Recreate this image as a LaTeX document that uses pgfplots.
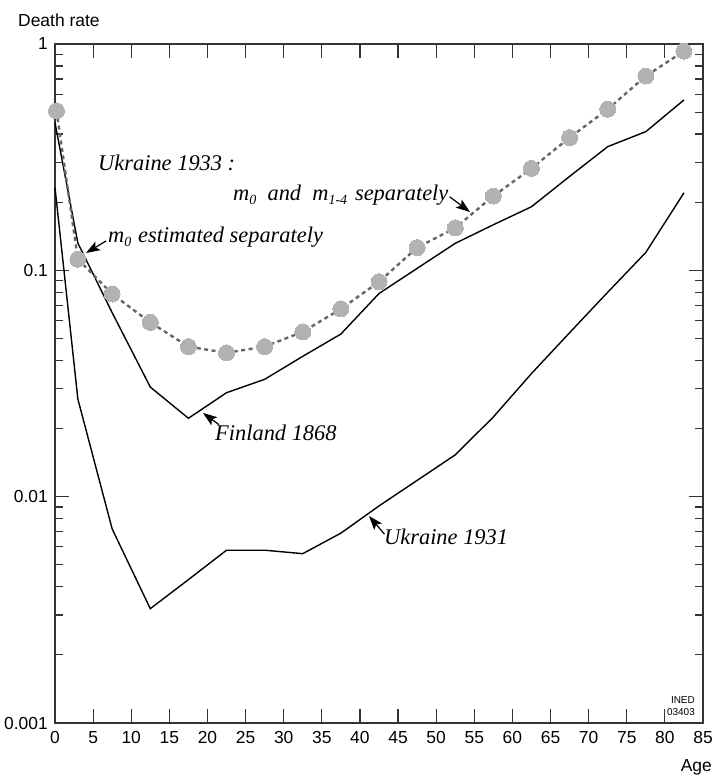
\documentclass[border=0pt]{standalone}
\usepackage{pgfplots}
\pgfplotsset{compat=1.18}
\usepackage{fontspec}
\setmainfont{Liberation Sans}
\newfontfamily\annotfont{Liberation Serif}
\usetikzlibrary{arrows.meta}
\newcommand{\annot}{\annotfont\itshape\fontsize{22.5}{24}\selectfont}
\newcommand{\sub}[1]{\raisebox{-0.45ex}{\fontsize{14}{14}\selectfont #1}}
\tikzset{annarrow/.style={line width=1.2bp, -{Stealth[length=14bp,width=10bp,inset=3bp]}}}

\begin{document}
\begin{tikzpicture}
\begin{axis}[
  name=ax,
  scale only axis,
  width=648bp, height=679bp,
  xmin=0, xmax=85,
  ymode=log, ymin=0.001, ymax=1,
  xtick={0,5,...,85},
  ytick={0.001,0.01,0.1,1},
  yticklabels={0.001,0.01,0.1,1},
  minor ytick={0.002,0.003,0.004,0.005,0.006,0.007,0.008,0.009,
               0.02,0.03,0.04,0.05,0.06,0.07,0.08,0.09,
               0.2,0.3,0.4,0.5,0.6,0.7,0.8,0.9},
  tick align=inside,
  xtick pos=both, ytick pos=both,
  xticklabel pos=left, yticklabel pos=left,
  major tick length=14bp,
  minor tick length=8bp,
  axis line style={line width=1.3bp, color=black!80},
  every tick/.style={line width=1.2bp, color=black!80},
  /pgf/number format/assume math mode=true,
  xticklabel style={font=\fontsize{17.5}{17.5}\selectfont, inner sep=0pt, yshift=-8bp},
  yticklabel style={font=\fontsize{17.5}{17.5}\selectfont, inner sep=0pt, xshift=-7bp},
  clip=false,
]
% Finland 1868
\addplot[black, line width=1.4bp] coordinates {
 (0,0.449) (3,0.132) (7.5,0.065) (12.5,0.0305) (17.5,0.0222) (22.5,0.0288)
 (27.5,0.033) (32.5,0.0417) (37.5,0.0523) (42.5,0.079) (47.5,0.102)
 (52.5,0.1316) (57.5,0.159) (62.5,0.191) (67.5,0.26) (72.5,0.352)
 (77.5,0.41) (82.5,0.566)};
% Ukraine 1931
\addplot[black, line width=1.4bp] coordinates {
 (0,0.232) (3,0.027) (7.5,0.0072) (12.5,0.0032) (17.5,0.0043) (22.5,0.0058)
 (27.5,0.0058) (32.5,0.0056) (37.5,0.0069) (42.5,0.0091) (47.5,0.0118)
 (52.5,0.0153) (57.5,0.0225) (62.5,0.035) (67.5,0.053) (72.5,0.08)
 (77.5,0.12) (82.5,0.22)};
% Ukraine 1933 dashed line
\addplot[color=black!60, line width=2.4bp, dash pattern=on 4bp off 3.5bp] coordinates {
 (0.2,0.507) (3,0.112) (7.5,0.0786) (12.5,0.0589) (17.5,0.046) (22.5,0.0432)
 (27.5,0.046) (32.5,0.0535) (37.5,0.0675) (42.5,0.089) (47.5,0.126)
 (52.5,0.154) (57.5,0.213) (62.5,0.282) (67.5,0.386) (72.5,0.515)
 (77.5,0.722) (82.5,0.93)};
% Ukraine 1933 dots
\addplot[only marks, color=black!30, mark=*, mark size=8bp, mark options={solid, fill=black!30, draw=black!30, line width=0pt}] coordinates {
 (0.2,0.507) (3,0.112) (7.5,0.0786) (12.5,0.0589) (17.5,0.046) (22.5,0.0432)
 (27.5,0.046) (32.5,0.0535) (37.5,0.0675) (42.5,0.089) (47.5,0.126)
 (52.5,0.154) (57.5,0.213) (62.5,0.282) (67.5,0.386) (72.5,0.515)
 (77.5,0.722) (82.5,0.93)};

% annotations
\node[anchor=west, inner sep=0pt] at (rel axis cs:0.0664,0.8247) {\annot Ukraine 1933 :};
\node[anchor=west, inner sep=0pt] at (rel axis cs:0.2747,0.7776) {\annot m\sub{0}\hspace{0.5em}and\hspace{0.5em}m\sub{1-4}\hspace{0.35em}separately};
\node[anchor=west, inner sep=0pt] at (rel axis cs:0.0818,0.7158) {\annot m\sub{0}\hspace{0.3em}estimated separately};
\node[anchor=west, inner sep=0pt] at (rel axis cs:0.2469,0.4271) {\annot Finland 1868};
\node[anchor=west, inner sep=0pt] at (rel axis cs:0.5077,0.2739) {\annot Ukraine 1931};

\draw[annarrow] (rel axis cs:0.0790,0.7100) -- (rel axis cs:0.0478,0.6922);
\draw[annarrow] (rel axis cs:0.6090,0.7750) -- (rel axis cs:0.6404,0.7526);
\draw[annarrow] (rel axis cs:0.2530,0.4395) -- (rel axis cs:0.2284,0.4566);
\draw[annarrow] (rel axis cs:0.5085,0.2780) -- (rel axis cs:0.4846,0.3049);

\node[anchor=east, inner sep=0pt, font=\fontsize{10}{10}\selectfont] at (rel axis cs:0.9877,0.0339) {INED};
\node[anchor=east, inner sep=0pt, font=\fontsize{10}{10}\selectfont] at (rel axis cs:0.9877,0.0162) {03403};
\end{axis}
\node[anchor=west, inner sep=0pt, font=\fontsize{17.5}{17.5}\selectfont] at ([xshift=-37bp,yshift=24bp]ax.north west) {Death rate};
\node[anchor=east, inner sep=0pt, font=\fontsize{17.5}{17.5}\selectfont] at ([xshift=9bp,yshift=-44bp]ax.south east) {Age};
\pgfresetboundingbox
\path[use as bounding box] ([xshift=-55bp,yshift=-53bp]ax.south west) rectangle ([xshift=10bp,yshift=44bp]ax.north east);
\end{tikzpicture}
\end{document}
